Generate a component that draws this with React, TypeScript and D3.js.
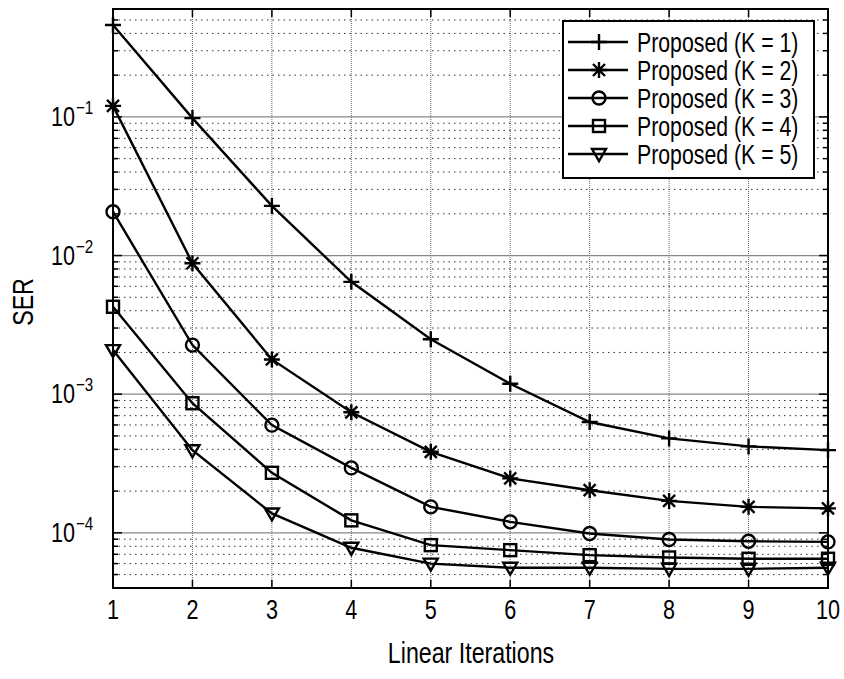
import * as d3 from "d3";

const iterations = [1, 2, 3, 4, 5, 6, 7, 8, 9, 10];
const seriesNames = [
  "Proposed (K = 1)",
  "Proposed (K = 2)",
  "Proposed (K = 3)",
  "Proposed (K = 4)",
  "Proposed (K = 5)",
];
const serK1 = [0.46, 0.098, 0.0228, 0.00646, 0.00249, 0.00119, 6.3e-4, 4.8e-4, 4.2e-4, 3.95e-4];
const serK2 = [0.12, 0.0088, 0.00178, 7.4e-4, 3.84e-4, 2.47e-4, 2.03e-4, 1.7e-4, 1.54e-4, 1.5e-4];
const serK3 = [0.0207, 0.00226, 5.98e-4, 2.94e-4, 1.54e-4, 1.2e-4, 9.9e-5, 8.95e-5, 8.7e-5, 8.6e-5];
const serK4 = [0.00427, 8.6e-4, 2.71e-4, 1.23e-4, 8.15e-5, 7.5e-5, 6.9e-5, 6.64e-5, 6.5e-5, 6.5e-5];
const serK5 = [0.00208, 3.94e-4, 1.38e-4, 7.8e-5, 6.0e-5, 5.6e-5, 5.6e-5, 5.5e-5, 5.5e-5, 5.6e-5];
const markers = ["plus", "star", "circle", "square", "triangle"];
const decades = [-1, -2, -3, -4];

const FONT = "'Liberation Sans', Arial, sans-serif";

// the original uses a narrow face, so squeeze a regular one
function NText({ x, y, size, anchor = "start", rotate = 0, sq = 0.8, children }: any) {
  return (
    <g transform={`translate(${x},${y}) rotate(${rotate}) scale(${sq},1)`}>
      <text x={0} y={0} fontSize={size} textAnchor={anchor}>
        {children}
      </text>
    </g>
  );
}

function Marker({ type, x, y }: { type: string; x: number; y: number }) {
  const s = 8;
  const st = { stroke: "#000", strokeWidth: 2.4, fill: "none" };
  if (type === "plus")
    return <path d={`M${x - s},${y}H${x + s}M${x},${y - s}V${y + s}`} {...st} />;
  if (type === "star") {
    const d = 6;
    return (
      <path
        d={`M${x - s},${y}H${x + s}M${x},${y - s}V${y + s}M${x - d},${y - d}L${x + d},${y + d}M${x - d},${y + d}L${x + d},${y - d}`}
        {...st}
      />
    );
  }
  if (type === "circle") return <circle cx={x} cy={y} r={6.5} {...st} />;
  if (type === "square") return <rect x={x - 6} y={y - 6} width={12} height={12} {...st} />;
  return <path d={`M${x - 7},${y - 5}H${x + 7}L${x},${y + 7}Z`} {...st} />;
}

export default function App() {
  const left = 113;
  const right = 828;
  const top = 9;
  const bottom = 588;
  const x = d3.scaleLinear().domain([1, 10]).range([left, right]);
  const y = d3.scaleLog().domain([4e-5, 0.6]).range([bottom, top]);
  const allSeries = [serK1, serK2, serK3, serK4, serK5];
  const line = d3
    .line<number>()
    .x((_, i) => x(iterations[i]))
    .y((v) => y(v));

  const minor: number[] = [];
  for (let e = -5; e <= 0; e++) {
    for (let m = 2; m <= 9; m++) {
      const v = m * Math.pow(10, e);
      if (v > 4e-5 && v < 0.6) minor.push(v);
    }
  }

  const legX = 563;
  const legY = 21;
  const rowH = 28;

  return (
    <svg
      width={844}
      height={679}
      style={{ position: "absolute", left: 0, top: 0, background: "#fff" }}
      fontFamily={FONT}
    >
      <rect x={0} y={0} width={844} height={679} fill="#fff" />
      {/* grid */}
      {iterations.slice(1, -1).map((t) => (
        <line key={`vx${t}`} x1={x(t)} x2={x(t)} y1={top} y2={bottom} stroke="#666" strokeWidth={1} strokeDasharray="1,1" />
      ))}
      {minor.map((v) => (
        <line key={`mn${v}`} x1={left} x2={right} y1={y(v)} y2={y(v)} stroke="#333" strokeWidth={1} strokeDasharray="1.5,4" />
      ))}
      {decades.map((e) => (
        <line key={`dc${e}`} x1={left} x2={right} y1={y(Math.pow(10, e))} y2={y(Math.pow(10, e))} stroke="#888" strokeWidth={1.2} />
      ))}
      {/* ticks */}
      {iterations.map((t) => (
        <g key={`xt${t}`}>
          <line x1={x(t)} x2={x(t)} y1={bottom} y2={bottom - 8} stroke="#000" strokeWidth={1.5} />
          <line x1={x(t)} x2={x(t)} y1={top} y2={top + 8} stroke="#000" strokeWidth={1.5} />
          <NText x={x(t)} y={619} size={27} anchor="middle">
            {t}
          </NText>
        </g>
      ))}
      {minor.map((v) => (
        <g key={`mt${v}`}>
          <line x1={left} x2={left + 5} y1={y(v)} y2={y(v)} stroke="#000" strokeWidth={1.5} />
          <line x1={right} x2={right - 5} y1={y(v)} y2={y(v)} stroke="#000" strokeWidth={1.5} />
        </g>
      ))}
      {decades.map((e) => (
        <g key={`yt${e}`}>
          <line x1={left} x2={left + 9} y1={y(Math.pow(10, e))} y2={y(Math.pow(10, e))} stroke="#000" strokeWidth={1.5} />
          <line x1={right} x2={right - 9} y1={y(Math.pow(10, e))} y2={y(Math.pow(10, e))} stroke="#000" strokeWidth={1.5} />
          <NText x={75} y={y(Math.pow(10, e)) + 9} size={27} anchor="end">
            10
          </NText>
          <NText x={76} y={y(Math.pow(10, e)) - 3} size={19}>
            {"\u2212" + -e}
          </NText>
        </g>
      ))}
      {/* axes box */}
      <rect x={left} y={top} width={right - left} height={bottom - top} fill="none" stroke="#000" strokeWidth={2} />
      {/* series */}
      {allSeries.map((s, i) => (
        <g key={`s${i}`}>
          <path d={line(s) || ""} fill="none" stroke="#000" strokeWidth={2.4} />
          {s.map((v, j) => (
            <Marker key={j} type={markers[i]} x={x(iterations[j])} y={y(v)} />
          ))}
        </g>
      ))}
      {/* legend */}
      <rect x={legX} y={legY} width={251} height={157} fill="#fff" stroke="#000" strokeWidth={2} />
      {seriesNames.map((n, i) => {
        const cy = legY + 21 + i * rowH;
        return (
          <g key={`lg${i}`}>
            <line x1={legX + 5} x2={legX + 65} y1={cy} y2={cy} stroke="#000" strokeWidth={2.4} />
            <Marker type={markers[i]} x={legX + 36} y={cy} />
            <NText x={legX + 74} y={cy + 10} size={28} sq={0.76}>
              {n}
            </NText>
          </g>
        );
      })}
      {/* axis labels */}
      <NText x={471} y={663} size={29} anchor="middle">
        Linear Iterations
      </NText>
      <NText x={33} y={302} size={29} anchor="middle" rotate={-90}>
        SER
      </NText>
    </svg>
  );
}
